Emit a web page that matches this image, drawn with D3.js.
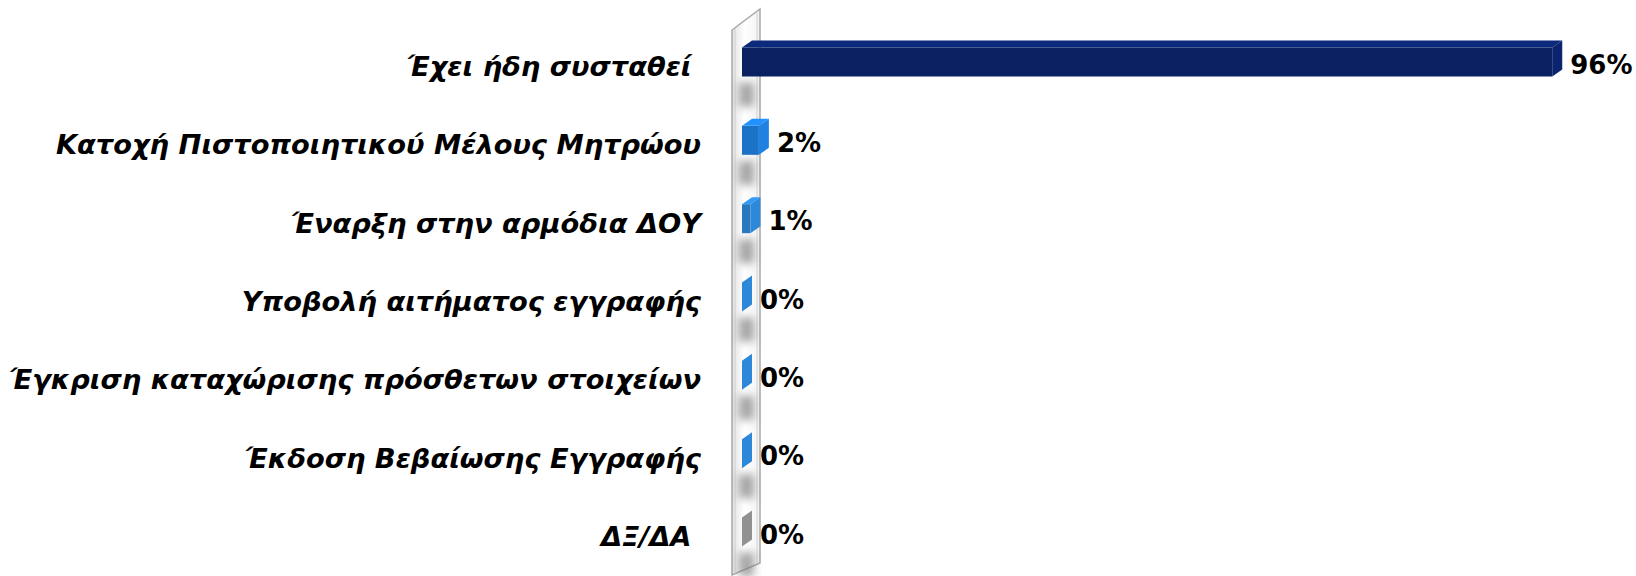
<!DOCTYPE html>
<html>
<head>
<meta charset="utf-8">
<script src="https://cdn.jsdelivr.net/npm/d3@7"></script>
<style>
  body { margin: 0; background: #fff; }
  svg { display: block; }
  text { white-space: pre; }
</style>
</head>
<body>
<svg width="1636" height="576"></svg>
<script>
// data
const categories = [
    "Έχει ήδη συσταθεί ",
    "Κατοχή Πιστοποιητικού Μέλους Μητρώου",
    "Έναρξη στην αρμόδια ΔΟΥ",
    "Υποβολή αιτήματος εγγραφής",
    "Έγκριση καταχώρισης πρόσθετων στοιχείων",
    "Έκδοση Βεβαίωσης Εγγραφής",
    "ΔΞ/ΔΑ "
];
const values = [96, 2, 1, 0, 0, 0, 0];
const valueLabels = ["96%", "2%", "1%", "0%", "0%", "0%", "0%"];
const barColors = ["#0a2060", "#1b72c6", "#2878c0", "#2878c0", "#2878c0", "#2878c0", "#808080"];

const rows = categories.map((c, i) => ({category: c, value: values[i], label: valueLabels[i], color: barColors[i]}));

const svg = d3.select("svg");
const defs = svg.append("defs");

// scales
const x = d3.scaleLinear()
    .domain([0, 100])
    .range([742, 1586]);

const y = d3.scalePoint()
    .domain(categories)
    .range([58.5, 528.5]);

const depth = 10;     // 3d side face
const topH = 7;       // 3d top face
const half = 18;

// wall
const wallGrad = defs.append("linearGradient").attr("id", "wallGrad")
    .attr("x1", "0").attr("x2", "1").attr("y1", "0").attr("y2", "0");
wallGrad.append("stop").attr("offset", "0%").attr("stop-color", "#e2e2e2");
wallGrad.append("stop").attr("offset", "45%").attr("stop-color", "#ffffff");
wallGrad.append("stop").attr("offset", "100%").attr("stop-color", "#f2f2f2");

defs.append("filter").attr("id", "blur")
    .attr("x", "-50%").attr("y", "-50%").attr("width", "200%").attr("height", "200%")
    .append("feGaussianBlur").attr("stdDeviation", 4);

const wallPts = [[732, 30], [760, 9], [760, 563], [732, 575]];
svg.append("polygon")
    .attr("points", wallPts.map(p => p.join(",")).join(" "))
    .attr("fill", "url(#wallGrad)")
    .attr("stroke", "#a8a8a8")
    .attr("stroke-width", 1.5);

svg.append("line").attr("x1", 735).attr("x2", 735).attr("y1", 28).attr("y2", 574)
    .attr("stroke", "#d0d0d0").attr("stroke-width", 1);
svg.append("line").attr("x1", 757).attr("x2", 757).attr("y1", 11).attr("y2", 564)
    .attr("stroke", "#d0d0d0").attr("stroke-width", 1);

// shadows on the wall
svg.selectAll(".shadow")
    .data(rows)
    .enter().append("rect")
    .attr("class", "shadow")
    .attr("x", 739)
    .attr("y", d => y(d.category) + half + 6)
    .attr("width", 15)
    .attr("height", 24)
    .attr("fill", "#808080")
    .attr("opacity", 0.7)
    .attr("filter", "url(#blur)");

// bars
const bars = svg.selectAll(".bar")
    .data(rows)
    .enter().append("g")
    .attr("class", "bar");

// front face
bars.append("rect")
    .attr("x", x(0))
    .attr("y", d => y(d.category) - half + topH)
    .attr("width", d => x(d.value) - x(0))
    .attr("height", 2 * half - topH)
    .attr("fill", d => d.color);

// top face
bars.append("path")
    .attr("d", d => {
        const c = y(d.category);
        const x0 = x(0), x1 = x(d.value);
        return `M${x0},${c - half + topH}L${x0 + depth},${c - half}L${x1 + depth},${c - half}L${x1},${c - half + topH}Z`;
    })
    .attr("fill", d => d3.color(d.color).brighter(0.7));

// side face
bars.append("path")
    .attr("d", d => {
        const c = y(d.category);
        const x1 = x(d.value);
        return `M${x1},${c - half + topH}L${x1 + depth},${c - half}L${x1 + depth},${c + half - topH}L${x1},${c + half}Z`;
    })
    .attr("fill", d => d3.color(d.color).brighter(0.35));

// category labels
svg.selectAll(".cat")
    .data(rows)
    .enter().append("text")
    .attr("class", "cat")
    .attr("x", 701)
    .attr("y", d => y(d.category) + 8)
    .attr("dy", "0.35em")
    .attr("text-anchor", "end")
    .attr("font-family", "DejaVu Sans")
    .attr("font-weight", "bold")
    .attr("font-style", "italic")
    .attr("font-size", "27.3px")
    .attr("fill", "#000")
    .text(d => d.category);

// value labels
svg.selectAll(".val")
    .data(rows)
    .enter().append("text")
    .attr("class", "val")
    .attr("x", d => x(d.value) + depth + 8)
    .attr("y", d => y(d.category) + 6)
    .attr("dy", "0.35em")
    .attr("font-family", "DejaVu Sans")
    .attr("font-weight", "bold")
    .attr("font-size", "26px")
    .attr("fill", "#000")
    .text(d => d.label);
</script>
</body>
</html>
